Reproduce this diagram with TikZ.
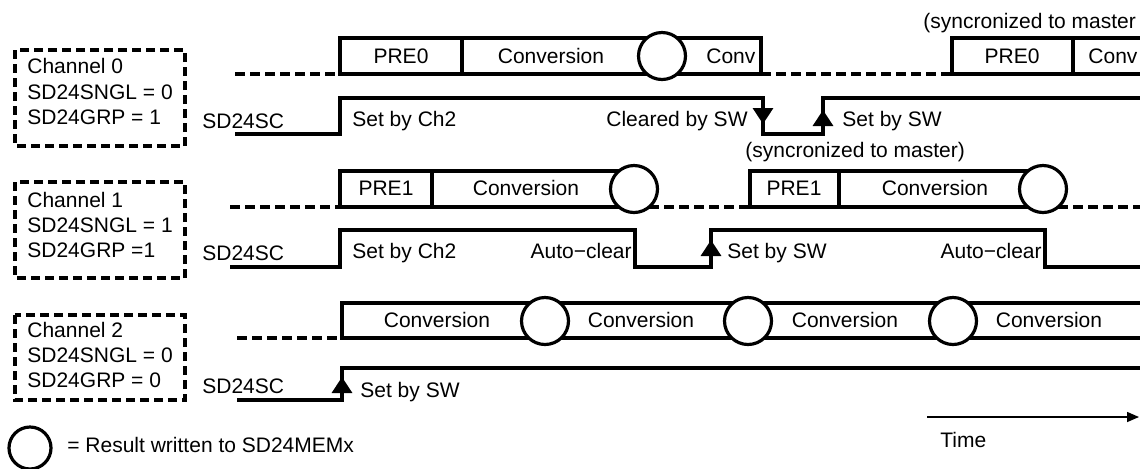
\documentclass[tikz,border=0pt]{standalone}
\usepackage{fontspec}
\setmainfont{Liberation Sans}
\usetikzlibrary{arrows.meta}

\begin{document}
\begin{tikzpicture}[
  x=0.5pt, y=-0.5pt,
  every node/.style={inner sep=0pt, font=\fontsize{10.5}{12.6}\selectfont},
  sig/.style={line width=1.6pt, line join=miter},
  idle/.style={line width=1.6pt, dash pattern=on 5pt off 2.5pt},
  cfgbox/.style={line width=1.6pt, dash pattern=on 4.5pt off 2.5pt},
  result/.style={circle, draw, fill=white, line width=1.6pt, minimum size=23.5pt},
  edgemark/.style={-{Triangle[length=8pt, width=10pt]}, line width=1.6pt},
  timeax/.style={-{Triangle[length=6pt, width=5pt]}, line width=0.75pt},
]
\clip (0,0) rectangle (1140,468);

% ---- channel settings (dashed boxes, left) ----
\draw[cfgbox] (15,50) rectangle (185,146);
\node[anchor=base west] (ch0a) at (27,73) {Channel 0};
\node[anchor=base west] (ch0b) at (27,99) {SD24SNGL = 0};
\node[anchor=base west] (ch0c) at (27,124) {SD24GRP = 1};

\draw[cfgbox] (15,182) rectangle (185,278);
\node[anchor=base west] (ch1a) at (27,207) {Channel 1};
\node[anchor=base west] (ch1b) at (27,232) {SD24SNGL = 1};
\node[anchor=base west] (ch1c) at (27,257) {SD24GRP =1};

\draw[cfgbox] (15,315) rectangle (185,400);
\node[anchor=base west] (ch2a) at (27,337) {Channel 2};
\node[anchor=base west] (ch2b) at (27,362) {SD24SNGL = 0};
\node[anchor=base west] (ch2c) at (27,387) {SD24GRP = 0};

% ---- channel 0: conversions ----
\draw[idle] (235,74) -- (340,74);
\draw[sig] (340,38) rectangle (761,74);
\draw[sig] (462,38) -- (462,74);
\node[result] (r0a) at (662,56) {};
\draw[idle] (761,74) -- (952,74);
\draw[sig] (1150,38) -| (952,74) -- (1150,74);
\draw[sig] (1073,38) -- (1073,74);
\node[anchor=base] (pre0a) at (401,63) {PRE0};
\node[anchor=base] (cv0a) at (551,63) {Conversion};
\node[anchor=base west] (cv0b) at (706,63) {Conv};
\node[anchor=base] (pre0b) at (1012,63) {PRE0};
\node[anchor=base west] (cv0c) at (1088,63) {Conv};
\node[anchor=base west] (sync0) at (923,28) {(syncronized to master};

% ---- channel 0: SD24SC ----
\draw[sig] (235,134) -| (340,98) -| (763,134) -| (823,98) -- (1150,98);
\draw[edgemark] (763,107) -- (763,124);
\draw[edgemark] (823,127) -- (823,110);
\node[anchor=base west] (sc0) at (202,128) {SD24SC};
\node[anchor=base west] (set0a) at (352,126) {Set by Ch2};
\node[anchor=base east] (clr0) at (748,126) {Cleared by SW};
\node[anchor=base west] (set0b) at (842,126) {Set by SW};
\node[anchor=base west] (sync1) at (745,157) {(syncronized to master)};

% ---- channel 1: conversions ----
\draw[idle] (230,207) -- (340,207);
\draw[sig] (634,171) -| (340,207) -- (634,207);
\draw[sig] (432,171) -- (432,207);
\draw[idle] (634,207) -- (750,207);
\node[result] (r1a) at (634,189) {};
\draw[sig] (1043,171) -| (750,207) -- (1043,207);
\draw[sig] (839,171) -- (839,207);
\draw[idle] (1043,207) -- (1150,207);
\node[result] (r1b) at (1043,189) {};
\node[anchor=base] (pre1a) at (386,195) {PRE1};
\node[anchor=base] (cv1a) at (526,195) {Conversion};
\node[anchor=base] (pre1b) at (794,195) {PRE1};
\node[anchor=base] (cv1b) at (935,195) {Conversion};

% ---- channel 1: SD24SC ----
\draw[sig] (230,267) -| (340,230) -| (635,267) -| (711,230) -| (1045,267) -- (1150,267);
\draw[edgemark] (711,257) -- (711,240);
\node[anchor=base west] (sc1) at (202,260) {SD24SC};
\node[anchor=base west] (set1a) at (352,258) {Set by Ch2};
\node[anchor=base east] (auto1a) at (632,258) {Auto−clear};
\node[anchor=base west] (set1b) at (727,258) {Set by SW};
\node[anchor=base east] (auto1b) at (1042,258) {Auto−clear};

% ---- channel 2: continuous conversions ----
\draw[idle] (237,338) -- (342,338);
\draw[sig] (1150,303) -| (342,338) -- (1150,338);
\foreach \cx [count=\i] in {545,748,953}
  \node[result] (r2\i) at (\cx,321) {};
\foreach \tx [count=\i] in {437,641,845,1049}
  \node[anchor=base] (cv2\i) at (\tx,327) {Conversion};

% ---- channel 2: SD24SC ----
\draw[sig] (237,400) -| (342,368) -- (1150,368);
\draw[edgemark] (342,395) -- (342,377);
\node[anchor=base west] (sc2) at (202,393) {SD24SC};
\node[anchor=base west] (set2) at (360,397) {Set by SW};

% ---- legend and time axis ----
\node[result, minimum size=21pt] (leg) at (30,448) {};
\node[anchor=base west] (legtxt) at (67,452) {= Result written to SD24MEMx};
\coordinate (t0) at (927,417);
\coordinate (t1) at (1139,417);
\draw[timeax] (t0) -- (t1);
\node[anchor=base west] (time) at (940,447) {Time};

\end{tikzpicture}
\end{document}
